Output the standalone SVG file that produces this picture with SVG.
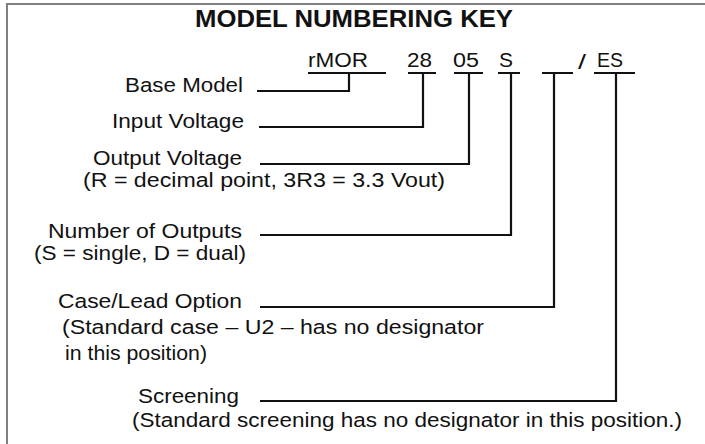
<svg xmlns="http://www.w3.org/2000/svg" width="705" height="444" viewBox="0 0 705 444">
<style>
.t{font-family:"Liberation Sans",Arial,sans-serif;font-size:20.5px;fill:#111}
.h{font-family:"Liberation Sans",Arial,sans-serif;font-size:24px;font-weight:bold;fill:#111}
.c{fill:none;stroke:#111;stroke-width:2.2}
.b{fill:none;stroke:#808080;stroke-width:2}
</style>
<rect x="0" y="0" width="705" height="444" fill="#fff"/>
<path class="b" d="M7,444 V4 H705"/>
<text class="h" x="195" y="27" textLength="318" lengthAdjust="spacingAndGlyphs">MODEL NUMBERING KEY</text>
<g id="code">
<text class="t" x="308" y="67" textLength="60" lengthAdjust="spacingAndGlyphs">rMOR</text>
<text class="t" x="407" y="67" textLength="25" lengthAdjust="spacingAndGlyphs">28</text>
<text class="t" x="453" y="67" textLength="26" lengthAdjust="spacingAndGlyphs">05</text>
<text class="t" x="499" y="67" textLength="14" lengthAdjust="spacingAndGlyphs">S</text>
<text class="t" x="578" y="69" textLength="8" lengthAdjust="spacingAndGlyphs">/</text>
<text class="t" x="597" y="67" textLength="26" lengthAdjust="spacingAndGlyphs">ES</text>
</g>
<g id="base-model"><text class="t" x="125" y="92" textLength="118" lengthAdjust="spacingAndGlyphs">Base Model</text></g>
<g id="input-voltage"><text class="t" x="112" y="128" textLength="132" lengthAdjust="spacingAndGlyphs">Input Voltage</text></g>
<g id="output-voltage"><text class="t" x="93" y="165" textLength="149" lengthAdjust="spacingAndGlyphs">Output Voltage</text>
<text class="t" x="83" y="187" textLength="362" lengthAdjust="spacingAndGlyphs">(R = decimal point, 3R3 = 3.3 Vout)</text></g>
<g id="number-of-outputs"><text class="t" x="48" y="238" textLength="194" lengthAdjust="spacingAndGlyphs">Number of Outputs</text>
<text class="t" x="34" y="260" textLength="212" lengthAdjust="spacingAndGlyphs">(S = single, D = dual)</text></g>
<g id="case-lead-option"><text class="t" x="58" y="308" textLength="184" lengthAdjust="spacingAndGlyphs">Case/Lead Option</text>
<text class="t" x="62" y="334" textLength="422" lengthAdjust="spacingAndGlyphs">(Standard case – U2 – has no designator</text>
<text class="t" x="65" y="360" textLength="142" lengthAdjust="spacingAndGlyphs">in this position)</text></g>
<g id="screening"><text class="t" x="138" y="403" textLength="101" lengthAdjust="spacingAndGlyphs">Screening</text>
<text class="t" x="132" y="427" textLength="550" lengthAdjust="spacingAndGlyphs">(Standard screening has no designator in this position.)</text></g>
<g id="connectors">
<path class="c" d="M308,73 H386 M349,73 V91 H257"/>
<path class="c" d="M408,73 H436 M423,73 V127 H259"/>
<path class="c" d="M454,73 H483 M469,73 V164 H260"/>
<path class="c" d="M498,73 H520 M511,73 V235 H260"/>
<path class="c" d="M542,73 H573 M554,73 V307 H260"/>
<path class="c" d="M594,73 H635 M616,73 V401 H260"/>
</g>
</svg>
